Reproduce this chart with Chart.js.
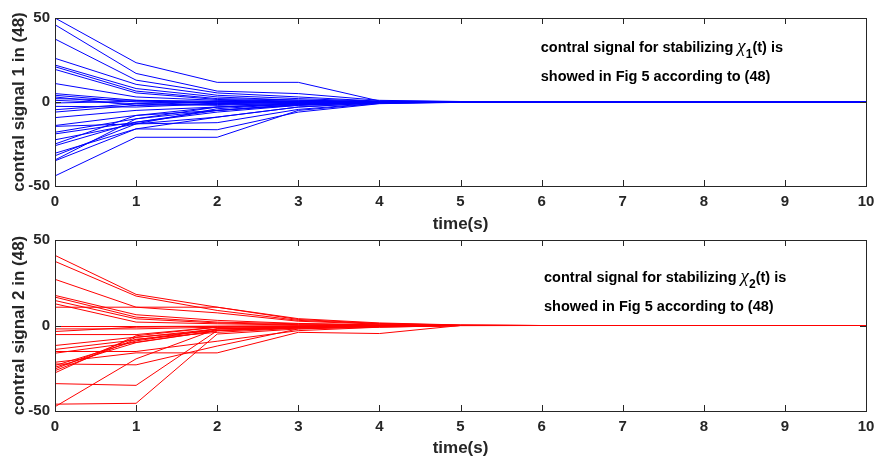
<!DOCTYPE html>
<html>
<head>
<meta charset="utf-8">
<script src="https://cdn.jsdelivr.net/npm/chart.js@4"></script>
<style>
  body { margin: 0; background: #fff; }
  #wrap { position: relative; width: 877px; height: 459px; }
  canvas { position: absolute; left: 0; }
</style>
</head>
<body>
<div id="wrap">
  <canvas id="c1" width="877" height="235" style="top:0"></canvas>
  <canvas id="c2" width="877" height="233" style="top:226px"></canvas>
</div>
<script>
// time samples (s)
const times = [0, 1, 2, 3, 4, 5, 6, 7, 8, 9, 10];
const yTicks = [-50, 0, 50];

// control signal 1, one row per trajectory
const signal1 = [
  [50, 23.4, 11.7, 11.7, 0.6, 0.2, 0.05, 0, 0, 0, 0],
  [46, 17, 6.5, 5, 1.0, 0.3, 0.05, 0, 0, 0, 0],
  [37.5, 13, 5.4, 3, 0.5, 0.2, 0, 0, 0, 0, 0],
  [26, 10.5, 4, 2, 0.4, 0.1, 0, 0, 0, 0, 0],
  [22, 8, 3, 1, 0.3, 0.1, 0, 0, 0, 0, 0],
  [21, 6.5, 2, 1.2, 0.2, 0, 0, 0, 0, 0, 0],
  [19.4, 5.4, 1.5, 0.5, 0.1, 0, 0, 0, 0, 0, 0],
  [11, 3, 1, 0.5, 0.1, 0, 0, 0, 0, 0, 0],
  [5, 1, 0.5, 0.2, 0, 0, 0, 0, 0, 0, 0],
  [4, 0, -1, 0.3, 0, 0, 0, 0, 0, 0, 0],
  [3, -2, 0.5, -0.4, 0.1, 0, 0, 0, 0, 0, 0],
  [2, 1, -0.5, 0.2, 0, 0, 0, 0, 0, 0, 0],
  [1, -1, 0.3, -0.2, 0, 0, 0, 0, 0, 0, 0],
  [-0.6, 0.5, -0.2, 0.1, 0, 0, 0, 0, 0, 0, 0],
  [-2.6, -3, -1, -0.5, 0, 0, 0, 0, 0, 0, 0],
  [-4.6, -1, -2, -0.6, -0.1, 0, 0, 0, 0, 0, 0],
  [-6, -2, -1.5, -1, -0.2, 0, 0, 0, 0, 0, 0],
  [-9.3, -5, -3, -1.5, -0.3, 0, 0, 0, 0, 0, 0],
  [-14, -8, -5, -2, -0.4, -0.1, 0, 0, 0, 0, 0],
  [-14.5, -13, -9, -3, -0.5, -0.1, 0, 0, 0, 0, 0],
  [-18, -10, -5, -1.5, -0.3, 0, 0, 0, 0, 0, 0],
  [-19, -12, -6, -2, -0.3, 0, 0, 0, 0, 0, 0],
  [-22.5, -13, -12.3, -4.4, -0.6, -0.1, 0, 0, 0, 0, 0],
  [-25, -8, -3, -1, -0.2, 0, 0, 0, 0, 0, 0],
  [-26, -12, -5, -1.5, -0.3, 0, 0, 0, 0, 0, 0],
  [-30.5, -16, -16.5, -6, -1, -0.2, 0, 0, 0, 0, 0],
  [-32, -13, -4, -1, -0.2, 0, 0, 0, 0, 0, 0],
  [-34.5, -10, -3, -0.8, -0.1, 0, 0, 0, 0, 0, 0],
  [-35, -16, -9, -3, -0.5, -0.1, 0, 0, 0, 0, 0],
  [-44, -21, -21, -5, -0.8, -0.1, 0, 0, 0, 0, 0]
];

// control signal 2
const signal2 = [
  [41, 18.2, 10.7, 4, 1.5, 0.3, 0, 0, 0, 0, 0],
  [37.5, 17.2, 8.8, 3, 1, 0.2, 0, 0, 0, 0, 0],
  [27, 10.7, 7.4, 2.5, 0.8, 0.1, 0, 0, 0, 0, 0],
  [17.6, 6.3, 3, 1.2, 0.4, 0, 0, 0, 0, 0, 0],
  [16.6, 4.9, 2, 1, 0.3, 0, 0, 0, 0, 0, 0],
  [14.6, 3.9, 1.5, 0.5, 0.2, 0, 0, 0, 0, 0, 0],
  [12.7, 2, 1, 0.3, 0.1, 0, 0, 0, 0, 0, 0],
  [10.7, 10.7, 10.7, 3.5, 1.2, 0.2, 0, 0, 0, 0, 0],
  [-0.6, -0.6, -0.4, -0.2, 0, 0, 0, 0, 0, 0, 0],
  [-2, -2, -1, -0.5, -0.2, 0, 0, 0, 0, 0, 0],
  [-3.5, -1, -0.5, -0.3, 0, 0, 0, 0, 0, 0, 0],
  [-5.3, -5.3, -1, -0.5, -0.2, 0, 0, 0, 0, 0, 0],
  [-11.7, -6.8, -3, -1, -0.3, 0, 0, 0, 0, 0, 0],
  [-14, -8.4, -2, -0.8, -0.2, 0, 0, 0, 0, 0, 0],
  [-15.2, -15.2, -9.2, -3, -1, -0.1, 0, 0, 0, 0, 0],
  [-16.2, -9.8, -3, -1.2, -0.4, 0, 0, 0, 0, 0, 0],
  [-21.5, -16, -16, -4, -4.7, 0, 0, 0, 0, 0, 0],
  [-22.5, -23, -12, -2, -1, 0, 0, 0, 0, 0, 0],
  [-23.4, -9, -2, -1, -0.3, 0, 0, 0, 0, 0, 0],
  [-24.4, -10, -3, -1.5, -0.5, 0, 0, 0, 0, 0, 0],
  [-25.4, -7, -2, -0.8, -0.2, 0, 0, 0, 0, 0, 0],
  [-26.4, -8, -4, -1.5, -0.5, 0, 0, 0, 0, 0, 0],
  [-27.7, -6, -1, -0.5, -0.1, 0, 0, 0, 0, 0, 0],
  [-34, -35, -3, -1, -0.3, 0, 0, 0, 0, 0, 0],
  [-46, -45.5, -5, -2, -0.5, 0, 0, 0, 0, 0, 0],
  [-47.5, -19.5, -2, -1, -0.2, 0, 0, 0, 0, 0, 0]
];

const axisColor = '#262626';
const tickFont = { family: 'Liberation Sans, Arial, sans-serif', size: 15, weight: 'bold' };
const titleFont = { family: 'Liberation Sans, Arial, sans-serif', size: 17, weight: 'bold' };

// matlab style box with inward ticks
const matlabFrame = {
  id: 'matlabFrame',
  afterDraw(chart) {
    const { ctx, chartArea: a, scales: { x, y } } = chart;
    const len = 6;
    ctx.save();
    ctx.strokeStyle = axisColor;
    ctx.lineWidth = 1;
    ctx.strokeRect(Math.round(a.left) + 0.5, Math.round(a.top) + 0.5,
      Math.round(a.right - a.left), Math.round(a.bottom - a.top));
    ctx.beginPath();
    x.ticks.forEach(t => {
      const px = Math.round(x.getPixelForValue(t.value)) + 0.5;
      ctx.moveTo(px, a.bottom); ctx.lineTo(px, a.bottom - len);
      ctx.moveTo(px, a.top); ctx.lineTo(px, a.top + len);
    });
    y.ticks.forEach(t => {
      const py = Math.round(y.getPixelForValue(t.value)) + 0.5;
      ctx.moveTo(a.left, py); ctx.lineTo(a.left + len, py);
      ctx.moveTo(a.right, py); ctx.lineTo(a.right - len, py);
    });
    ctx.stroke();
    ctx.restore();
  }
};

// two-line note inside the axes
const noteText = {
  id: 'noteText',
  afterDraw(chart, args, opts) {
    if (!opts.sub) return;
    const { ctx, scales: { x, y } } = chart;
    const x0 = x.getPixelForValue(opts.x);
    const y1 = y.getPixelForValue(opts.y1);
    const y2 = y.getPixelForValue(opts.y2);
    ctx.save();
    ctx.fillStyle = '#000';
    ctx.textBaseline = 'alphabetic';
    ctx.font = 'bold 14.5px Liberation Sans, Arial, sans-serif';
    const s = 'contral signal for stabilizing ';
    ctx.fillText(s, x0, y1);
    let cx = x0 + ctx.measureText(s).width;
    ctx.font = 'italic 19px Liberation Serif, serif';
    ctx.fillText('\u03c7', cx, y1);
    cx += ctx.measureText('\u03c7').width;
    ctx.font = 'bold 12px Liberation Sans, Arial, sans-serif';
    ctx.fillText(opts.sub, cx, y1 + 6);
    cx += ctx.measureText(opts.sub).width;
    ctx.font = 'bold 14.5px Liberation Sans, Arial, sans-serif';
    ctx.fillText('(t) is', cx, y1);
    ctx.fillText('showed in Fig 5 according to (48)', x0, y2);
    ctx.restore();
  }
};

function makeChart(id, rows, color, yLabel, note, padTop, xHeight) {
  const datasets = rows.map(r => ({
    data: r,
    borderColor: color,
    borderWidth: 1,
    pointRadius: 0,
    tension: 0,
    fill: false
  }));
  return new Chart(document.getElementById(id), {
    type: 'line',
    data: { labels: times, datasets: datasets },
    plugins: [matlabFrame, noteText],
    options: {
      responsive: false,
      animation: false,
      layout: { padding: { top: padTop, right: 11, left: 0, bottom: 0 } },
      plugins: {
        legend: { display: false },
        tooltip: { enabled: false },
        noteText: note
      },
      scales: {
        x: {
          type: 'linear', min: 0, max: 10,
          ticks: { stepSize: 1, color: axisColor, font: tickFont, padding: 7, maxRotation: 0 },
          grid: { display: false, drawTicks: false },
          border: { display: false },
          title: { display: true, text: 'time(s)', color: axisColor, font: titleFont, padding: { top: 0, bottom: 0 } },
          afterFit: s => { s.height = xHeight; s.paddingRight = 0; s.paddingLeft = 0; }
        },
        y: {
          min: -50, max: 50,
          afterBuildTicks: s => { s.ticks = yTicks.map(v => ({ value: v })); },
          ticks: { color: axisColor, font: tickFont, padding: 5 },
          grid: { display: false, drawTicks: false },
          border: { display: false },
          title: { display: true, text: yLabel, color: axisColor, font: titleFont, padding: { top: 9, bottom: 0 } },
          afterFit: s => { s.width = 55; }
        }
      }
    }
  });
}

makeChart('c1', signal1, '#0000ff', 'contral signal 1 in (48)',
  { sub: '1', x: 5.99, y1: 30, y2: 12.5 }, 18, 49);
makeChart('c2', signal2, '#ff0000', 'contral signal 2 in (48)',
  { sub: '2', x: 6.03, y1: 25.6, y2: 8.6 }, 14, 48);
</script>
</body>
</html>
